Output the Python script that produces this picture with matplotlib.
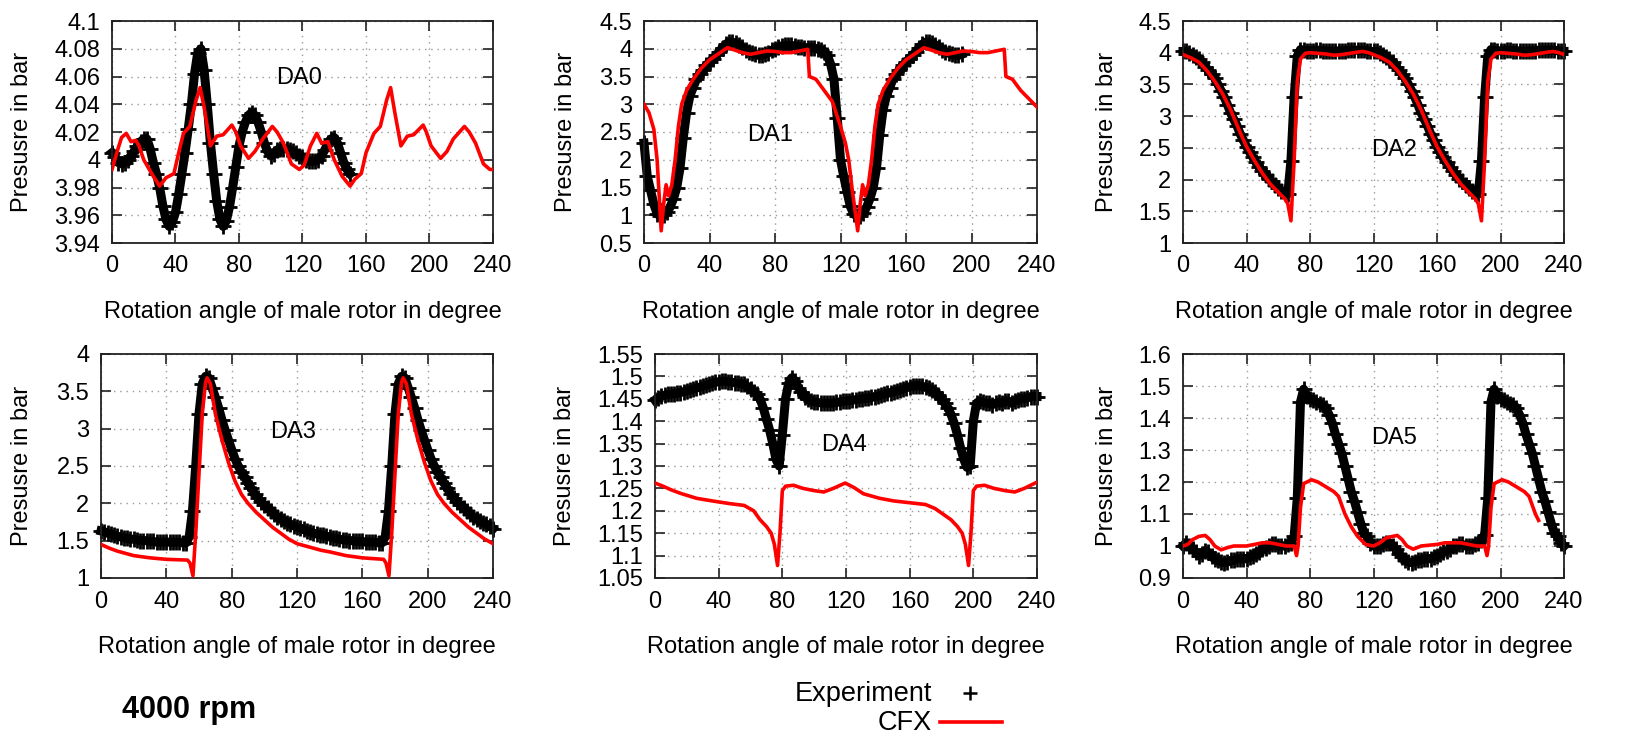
import numpy as np
import matplotlib
matplotlib.use('Agg')
import matplotlib.pyplot as plt
from matplotlib.lines import Line2D
from matplotlib.ticker import FuncFormatter

plt.rcParams['font.family'] = ['Liberation Sans', 'DejaVu Sans']

# --- data (angle in degree, pressure in bar) ---
exp_x_da0 = np.arange(0, 151, 2)
exp_da0 = [4.005, 4.002, 3.998, 3.997, 3.998, 4.0, 4.003, 4.006, 4.01, 4.013,
           4.015, 4.015, 4.008, 3.998, 3.99, 3.98, 3.967, 3.957, 3.952, 3.955,
           3.962, 3.975, 3.99, 4.005, 4.022, 4.04, 4.062, 4.077, 4.08, 4.065,
           4.04, 4.012, 3.99, 3.97, 3.957, 3.952, 3.956, 3.966, 3.98, 3.995,
           4.01, 4.02, 4.027, 4.032, 4.034, 4.032, 4.027, 4.02, 4.012, 4.006,
           4.003, 4.004, 4.007, 4.008, 4.008, 4.008, 4.007, 4.006, 4.005, 4.003,
           4.002, 4.0, 3.999, 3.999, 3.999, 4.0, 4.003, 4.007, 4.012, 4.015,
           4.016, 4.012, 4.005, 3.998, 3.993, 3.99]
cfx_x_da0 = [0, 3, 6, 9, 12, 15, 17, 20, 25, 30, 34, 39, 42, 45, 49, 53, 55.5, 58, 62, 66,
             70, 75.5, 78, 81, 86, 90, 95, 101, 104, 108, 113, 118, 121, 125, 129, 132, 136, 140, 145, 150,
             153, 157, 160, 165, 169, 173, 175.5, 178, 182, 186, 190, 196, 198, 201, 207, 211, 215, 222, 225, 229,
             234, 238, 240]
cfx_da0 = [3.993, 4.005, 4.016, 4.019, 4.013, 4.014, 4.01, 4.0, 3.99, 3.981,
           3.987, 3.99, 4.005, 4.019, 4.024, 4.043, 4.052, 4.038, 4.01, 4.017,
           4.018, 4.025, 4.02, 4.01, 4.001, 4.006, 4.015, 4.024, 4.02, 4.012,
           3.997, 3.993, 3.996, 4.01, 4.019, 4.012, 4.013, 4.0, 3.988, 3.981,
           3.986, 3.99, 4.005, 4.019, 4.024, 4.043, 4.052, 4.035, 4.01, 4.017,
           4.018, 4.025, 4.02, 4.01, 4.001, 4.006, 4.015, 4.024, 4.02, 4.012,
           3.997, 3.993, 3.993]

exp_x_da1 = np.arange(0, 195, 2)
exp_da1 = [2.3, 1.7, 1.45, 1.2, 1.03, 0.98, 1.0, 1.05, 1.15, 1.3,
           1.5, 1.85, 2.4, 2.85, 3.15, 3.3, 3.45, 3.55, 3.62, 3.7,
           3.76, 3.82, 3.88, 3.95, 4.02, 4.08, 4.12, 4.12, 4.1, 4.07,
           4.03, 3.98, 3.95, 3.92, 3.9, 3.88, 3.88, 3.9, 3.93, 3.97,
           4.0, 4.03, 4.05, 4.06, 4.06, 4.06, 4.05, 4.04, 4.03, 4.02,
           4.02, 4.02, 4.01, 4.0, 3.98, 3.95, 3.88, 3.72, 3.45, 2.75,
           2.0, 1.7, 1.42, 1.16, 1.03, 0.98, 0.99, 1.04, 1.15, 1.3,
           1.5, 1.85, 2.45, 2.9, 3.15, 3.3, 3.45, 3.55, 3.62, 3.7,
           3.76, 3.82, 3.88, 3.95, 4.02, 4.08, 4.12, 4.12, 4.1, 4.07,
           4.03, 3.98, 3.95, 3.92, 3.9, 3.88, 3.88, 3.9]
cfx_x_da1 = [0, 3, 6, 8, 10.5, 12, 13.5, 15, 17, 19, 21, 23, 26, 30, 35, 40, 45, 49, 51, 55,
             60, 65, 70, 75, 80, 85, 90, 95, 100, 101, 105, 110, 115, 120, 123, 125, 127, 130.5, 132, 133.5,
             135, 137, 139, 141, 143, 146, 150, 155, 160, 165, 169, 171, 175, 180, 185, 190, 195, 200, 205, 210,
             215, 220, 221, 225, 230, 235, 240]
cfx_da1 = [3.0, 2.85, 2.55, 2.0, 0.72, 1.2, 1.55, 1.35, 1.55, 2.0,
           2.6, 3.0, 3.25, 3.45, 3.65, 3.8, 3.9, 3.98, 4.02, 3.98,
           3.93, 3.9, 3.93, 3.96, 3.95, 3.93, 3.93, 3.96, 3.99, 3.5,
           3.45, 3.25, 3.05, 2.6, 2.3, 2.0, 1.5, 0.72, 1.2, 1.55,
           1.35, 1.55, 2.0, 2.6, 3.0, 3.25, 3.45, 3.65, 3.8, 3.9,
           3.98, 4.02, 3.98, 3.93, 3.9, 3.93, 3.96, 3.95, 3.93, 3.93,
           3.96, 3.99, 3.5, 3.45, 3.25, 3.1, 2.95]

exp_x_da2 = np.arange(0, 241, 2)
exp_da2 = [4.02, 4.02, 4.0, 3.97, 3.93, 3.9, 3.85, 3.78, 3.72, 3.66,
           3.6, 3.5, 3.4, 3.3, 3.18, 3.05, 2.95, 2.85, 2.72, 2.62,
           2.52, 2.43, 2.35, 2.27, 2.2, 2.13, 2.07, 2.01, 1.97, 1.92,
           1.87, 1.82, 1.79, 1.77, 2.3, 3.3, 3.95, 4.05, 4.04, 4.03,
           4.03, 4.03, 4.04, 4.04, 4.03, 4.03, 4.03, 4.02, 4.02, 4.03,
           4.03, 4.03, 4.04, 4.04, 4.04, 4.04, 4.04, 4.04, 4.03, 4.02,
           4.02, 4.02, 4.0, 3.97, 3.93, 3.9, 3.85, 3.78, 3.72, 3.66,
           3.6, 3.5, 3.4, 3.3, 3.18, 3.05, 2.95, 2.85, 2.72, 2.62,
           2.52, 2.43, 2.35, 2.27, 2.2, 2.13, 2.07, 2.01, 1.97, 1.92,
           1.87, 1.82, 1.79, 1.77, 2.3, 3.3, 3.95, 4.05, 4.04, 4.03,
           4.03, 4.03, 4.04, 4.04, 4.03, 4.03, 4.03, 4.02, 4.02, 4.03,
           4.03, 4.03, 4.04, 4.04, 4.04, 4.04, 4.04, 4.04, 4.03, 4.02,
           4.02]
cfx_x_da2 = [0, 5, 10, 15, 20, 25, 30, 35, 40, 45, 50, 55, 60, 64, 66, 68, 70, 72, 74, 77,
             80, 85, 90, 95, 100, 105, 110, 113, 117, 120, 125, 130, 135, 140, 145, 150, 155, 160, 165, 170,
             175, 180, 184, 186, 188, 190, 192, 194, 197, 200, 205, 210, 215, 220, 225, 230, 233, 237, 240]
cfx_da2 = [3.97, 3.92, 3.85, 3.72, 3.55, 3.35, 3.1, 2.8, 2.52, 2.3,
           2.1, 1.93, 1.8, 1.7, 1.62, 1.35, 2.3, 3.55, 3.9, 3.99,
           4.0, 3.99, 3.98, 3.96, 3.97, 3.99, 4.01, 4.02, 4.0, 3.97,
           3.92, 3.85, 3.72, 3.55, 3.35, 3.1, 2.8, 2.52, 2.3, 2.1,
           1.93, 1.8, 1.7, 1.62, 1.35, 2.3, 3.55, 3.9, 3.99, 4.0,
           3.99, 3.98, 3.96, 3.97, 3.99, 4.01, 4.02, 4.0, 3.97]

exp_x_da3 = np.arange(0, 241, 2)
exp_da3 = [1.63, 1.62, 1.6, 1.59, 1.57, 1.56, 1.55, 1.54, 1.53, 1.52,
           1.52, 1.51, 1.5, 1.5, 1.5, 1.49, 1.49, 1.48, 1.48, 1.48,
           1.48, 1.48, 1.48, 1.48, 1.48, 1.47, 1.47, 1.55, 1.9, 2.5,
           3.2, 3.6, 3.7, 3.68, 3.55, 3.42, 3.28, 3.12, 2.98, 2.85,
           2.72, 2.6, 2.5, 2.42, 2.35, 2.27, 2.2, 2.13, 2.07, 2.02,
           1.98, 1.94, 1.9, 1.86, 1.82, 1.79, 1.76, 1.74, 1.72, 1.7,
           1.68, 1.67, 1.65, 1.63, 1.62, 1.6, 1.59, 1.58, 1.57, 1.56,
           1.55, 1.54, 1.53, 1.52, 1.51, 1.51, 1.5, 1.5, 1.49, 1.49,
           1.49, 1.48, 1.48, 1.48, 1.48, 1.47, 1.47, 1.55, 1.9, 2.5,
           3.2, 3.6, 3.7, 3.68, 3.55, 3.42, 3.28, 3.12, 2.98, 2.85,
           2.72, 2.6, 2.5, 2.42, 2.35, 2.27, 2.2, 2.13, 2.07, 2.02,
           1.98, 1.94, 1.9, 1.86, 1.82, 1.79, 1.76, 1.74, 1.72, 1.7,
           1.66]
cfx_x_da3 = [0, 5, 10, 15, 20, 30, 40, 53, 54.5, 56.3, 58, 60, 62, 64, 65, 67, 70, 74, 78, 82,
             86, 90, 95, 100, 105, 110, 115, 120, 125, 130, 135, 140, 150, 160, 173, 174.5, 176.3, 178, 180, 182,
             184, 185, 187, 190, 194, 198, 202, 206, 210, 215, 220, 225, 230, 235, 240]
cfx_da3 = [1.45, 1.4, 1.36, 1.33, 1.3, 1.27, 1.25, 1.24, 1.2, 1.03,
           1.6, 2.4, 3.2, 3.62, 3.68, 3.6, 3.2, 2.85, 2.55, 2.3,
           2.12, 2.0, 1.88, 1.78, 1.68, 1.6, 1.52, 1.46, 1.43, 1.4,
           1.37, 1.35, 1.3, 1.27, 1.25, 1.2, 1.03, 1.6, 2.4, 3.2,
           3.62, 3.68, 3.6, 3.2, 2.85, 2.55, 2.3, 2.12, 2.0, 1.88,
           1.78, 1.68, 1.6, 1.52, 1.46]

exp_x_da4 = np.arange(0, 241, 2)
exp_da4 = [1.447, 1.452, 1.456, 1.458, 1.46, 1.46, 1.461, 1.462, 1.464, 1.466,
           1.468, 1.47, 1.472, 1.474, 1.476, 1.478, 1.48, 1.482, 1.485, 1.487,
           1.488, 1.489, 1.489, 1.488, 1.487, 1.486, 1.485, 1.484, 1.482, 1.478,
           1.472, 1.466, 1.46, 1.45, 1.43, 1.405, 1.38, 1.35, 1.315, 1.3,
           1.37, 1.45, 1.485, 1.497, 1.49, 1.475, 1.465, 1.455, 1.45, 1.445,
           1.443, 1.442, 1.441, 1.44, 1.44, 1.44, 1.441, 1.442, 1.443, 1.444,
           1.445, 1.446, 1.447, 1.448, 1.449, 1.45, 1.451, 1.452, 1.453, 1.455,
           1.456, 1.458, 1.46, 1.462, 1.464, 1.466, 1.468, 1.47, 1.472, 1.475,
           1.477, 1.478, 1.479, 1.479, 1.478, 1.476, 1.473, 1.47, 1.465, 1.458,
           1.45, 1.44, 1.43, 1.415, 1.395, 1.37, 1.34, 1.315, 1.297, 1.3,
           1.4, 1.44, 1.445, 1.442, 1.44, 1.44, 1.437, 1.44, 1.442, 1.44,
           1.445, 1.445, 1.44, 1.445, 1.448, 1.45, 1.45, 1.452, 1.455, 1.455,
           1.455]
cfx_x_da4 = [0, 5, 10, 16, 26, 36, 47, 56, 62, 66, 70, 73, 75, 77, 78.5, 80, 82, 87, 93, 100,
             106, 112, 119.5, 125, 131, 141, 150, 160, 170, 176, 182, 186, 190, 193, 195, 197, 198.5, 200, 202, 207,
             213, 220, 226, 232, 240]
cfx_da4 = [1.262, 1.255, 1.247, 1.239, 1.228, 1.222, 1.216, 1.212, 1.2, 1.18,
           1.165, 1.15, 1.125, 1.078, 1.15, 1.245, 1.255, 1.257, 1.25, 1.245,
           1.242, 1.25, 1.262, 1.252, 1.238, 1.228, 1.222, 1.218, 1.214, 1.205,
           1.19, 1.18, 1.165, 1.15, 1.125, 1.078, 1.15, 1.245, 1.255, 1.257,
           1.25, 1.245, 1.242, 1.25, 1.264]

exp_x_da5 = np.arange(0, 241, 2)
exp_da5 = [1.0, 1.01, 1.0, 0.99, 0.98, 0.97, 0.975, 0.985, 0.98, 0.97,
           0.96, 0.955, 0.95, 0.948, 0.95, 0.955, 0.955, 0.96, 0.96, 0.96,
           0.96, 0.965, 0.97, 0.975, 0.98, 0.99, 0.995, 1.0, 1.005, 1.005,
           1.0, 1.0, 1.0, 1.005, 1.01, 1.03, 1.15, 1.45, 1.49, 1.47,
           1.46, 1.455, 1.45, 1.445, 1.44, 1.43, 1.41, 1.385, 1.35, 1.32,
           1.29, 1.25, 1.21, 1.17, 1.14, 1.105, 1.07, 1.04, 1.03, 1.01,
           1.0, 1.0, 1.0, 1.005, 1.01, 1.01, 1.0, 0.99, 0.975, 0.965,
           0.955, 0.95, 0.948, 0.95, 0.955, 0.955, 0.96, 0.96, 0.96, 0.965,
           0.97, 0.975, 0.98, 0.985, 0.99, 1.0, 1.0, 1.005, 1.005, 1.0,
           1.0, 1.0, 1.005, 1.01, 1.02, 1.035, 1.15, 1.45, 1.49, 1.47,
           1.46, 1.455, 1.45, 1.445, 1.44, 1.43, 1.41, 1.385, 1.35, 1.32,
           1.29, 1.25, 1.21, 1.17, 1.14, 1.105, 1.07, 1.04, 1.03, 1.01,
           1.0]
cfx_x_da5 = [0, 3, 6, 10, 14, 17, 20, 24, 28, 32, 40, 45, 50, 55, 60, 65, 70, 71.5, 72.5, 74,
             76, 81, 85, 90, 95, 98, 102, 106, 110, 115, 120, 124, 128, 132, 135, 138, 141, 145, 150, 160,
             165, 170, 175, 180, 185, 190, 191.5, 192.5, 194, 196, 201, 205, 210, 215, 218, 222, 224]
cfx_da5 = [1.0, 1.005, 1.02, 1.03, 1.033, 1.02, 1.0, 0.988, 0.995, 1.0,
           1.0, 1.005, 1.01, 1.01, 1.005, 1.0, 1.0, 0.97, 1.0, 1.12,
           1.195, 1.207, 1.2, 1.185, 1.17, 1.155, 1.1, 1.06, 1.03, 1.005,
           1.0, 1.01, 1.025, 1.03, 1.033, 1.02, 1.0, 0.99, 1.0, 1.005,
           1.01, 1.01, 1.01, 1.005, 1.0, 1.0, 0.97, 1.0, 1.12, 1.195,
           1.207, 1.2, 1.185, 1.17, 1.155, 1.1, 1.08]

names = ['DA0', 'DA1', 'DA2', 'DA3', 'DA4', 'DA5']
ylims = [(3.94, 4.1), (0.5, 4.5), (1.0, 4.5), (1.0, 4.0), (1.05, 1.55), (0.9, 1.6)]
ysteps = [0.02, 0.5, 0.5, 0.5, 0.05, 0.1]
label_pos = [(118, 4.059), (77, 2.45), (133, 2.47), (117.5, 2.96), (119, 1.347), (133, 1.338)]
exp_x = [exp_x_da0, exp_x_da1, exp_x_da2, exp_x_da3, exp_x_da4, exp_x_da5]
exp_y = [exp_da0, exp_da1, exp_da2, exp_da3, exp_da4, exp_da5]
cfx_x = [cfx_x_da0, cfx_x_da1, cfx_x_da2, cfx_x_da3, cfx_x_da4, cfx_x_da5]
cfx_y = [cfx_da0, cfx_da1, cfx_da2, cfx_da3, cfx_da4, cfx_da5]

# --- layout in pixels of the 1637x736 canvas ---
W, H = 1637, 736
boxes = [(112, 21, 493, 243), (644, 21, 1037, 243), (1183, 21, 1564, 243),
         (101, 354, 493, 578), (655, 354, 1037, 578), (1183, 354, 1564, 578)]
ylabel_x = [22, 566, 1107, 22, 565, 1107]
xlabel_base = [318, 318, 318, 653, 653, 653]

fig = plt.figure(figsize=(W / 100, H / 100), dpi=100)
FS = 17

for i in range(6):
    l, t, r, b = boxes[i]
    ax = fig.add_axes([l / W, 1 - b / H, (r - l) / W, (b - t) / H])
    # experiment: dense '+' points drawn as a thick band
    ax.plot(exp_x[i], exp_y[i], color='black', lw=6.5, solid_joinstyle='round',
            marker='+', ms=11, mew=2.0, zorder=2, clip_on=False)
    ax.plot(cfx_x[i], cfx_y[i], color='#ff0000', lw=2.6, zorder=3)

    lo, hi = ylims[i]
    ax.set_xlim(0, 240)
    ax.set_ylim(lo, hi)
    ax.set_xticks(np.arange(0, 241, 40))
    ax.set_yticks(np.round(np.arange(lo, hi + ysteps[i] / 2, ysteps[i]), 4))
    ax.yaxis.set_major_formatter(FuncFormatter(lambda v, p: '%g' % round(v, 4)))
    ax.tick_params(direction='in', length=7, width=1.2, top=True, right=True,
                   labelsize=FS, color='#222222')
    ax.tick_params(axis='x', pad=9)
    ax.tick_params(axis='y', pad=8.5)
    ax.grid(True, color='#999999', linestyle=(0, (1, 3.5)), linewidth=1.0)
    ax.set_axisbelow(True)
    for s in ax.spines.values():
        s.set_linewidth(1.3)
        s.set_color('#222222')

    ax.set_xlabel('Rotation angle of male rotor in degree', fontsize=FS, va='baseline')
    ax.xaxis.set_label_coords((l + r) / 2 / W, 1 - xlabel_base[i] / H, transform=fig.transFigure)
    ax.set_ylabel('Presusre in bar', fontsize=FS, va='center')
    ax.yaxis.set_label_coords(ylabel_x[i] / W, 1 - (t + b) / 2 / H, transform=fig.transFigure)

    ax.text(label_pos[i][0], label_pos[i][1], names[i], fontsize=FS, ha='center', va='center')

# --- footer: rpm note and gnuplot-style key ---
fig.text(122 / W, 1 - 718 / H, '4000 rpm', fontsize=22, fontweight='bold', ha='left', va='baseline')
fig.text(932 / W, 1 - 701 / H, 'Experiment', fontsize=19.5, ha='right', va='baseline')
fig.text(932 / W, 1 - 730 / H, 'CFX', fontsize=19.5, ha='right', va='baseline')
fig.add_artist(Line2D([970 / W], [1 - 693 / H], marker='+', ms=10, mew=1.8, color='black',
                      transform=fig.transFigure))
fig.add_artist(Line2D([940 / W, 1002 / W], [1 - 722 / H, 1 - 722 / H], lw=2.6, color='#ff0000',
                      transform=fig.transFigure))

fig.savefig('out.png', dpi=100)
